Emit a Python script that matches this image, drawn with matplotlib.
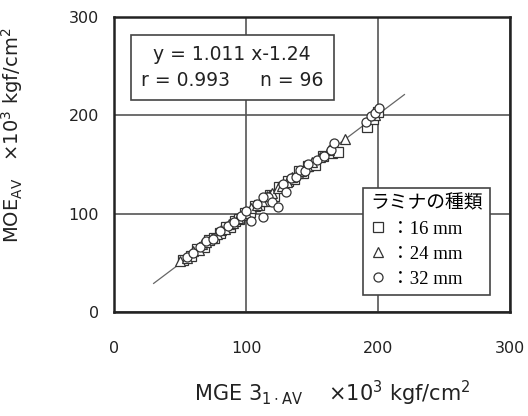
import matplotlib
matplotlib.use("Agg")
import matplotlib.pyplot as plt
import numpy as np

# MGE vs MOE for three lamina thicknesses (x10^3 kgf/cm^2)
sq_x = [52, 58, 63, 68, 72, 76, 80, 85, 88, 92, 95, 99, 103, 107, 110, 114,
        118, 121, 125, 128, 132, 136, 140, 143, 147, 152, 158, 165, 170, 192, 196, 200]
sq_y = [53, 57, 64, 66, 73, 75, 80, 86, 86, 93, 95, 101, 102, 108, 109, 113,
        119, 118, 127, 127, 133, 135, 143, 141, 148, 150, 159, 162, 163, 188, 196, 203]

tri_x = [50, 55, 60, 64, 67, 70, 74, 78, 81, 84, 87, 90, 94, 97, 100, 104,
         108, 112, 116, 120, 124, 127, 131, 135, 139, 142, 146, 150, 156, 163, 175, 198]
tri_y = [52, 55, 62, 63, 69, 71, 75, 79, 83, 84, 90, 91, 96, 99, 101, 106,
         109, 113, 118, 121, 126, 128, 132, 137, 141, 143, 148, 153, 158, 165, 176, 200]

cir_x = [55, 60, 65, 70, 75, 80, 86, 91, 96, 100, 104, 108, 113, 117, 120, 124,
         128, 130, 134, 138, 141, 145, 147, 154, 159, 164, 167, 191, 195, 198, 201, 113]
cir_y = [56, 60, 66, 72, 74, 82, 87, 92, 98, 103, 93, 110, 97, 117, 112, 107,
         130, 122, 136, 137, 144, 143, 151, 155, 159, 165, 172, 193, 199, 202, 207, 117]

labels = ["：16 mm", "：24 mm", "：32 mm"]
slope, intercept = 1.011, -1.24
fit_range = [30, 220]

fig = plt.figure(figsize=(5.28, 4.16), dpi=100)
ax = fig.add_axes([0.216, 0.25, 0.75, 0.709])

xf = np.array(fit_range)
ax.plot(xf, slope * xf + intercept, color="#666666", lw=0.9, zorder=2)

mk = dict(mfc="white", mec="#333333", mew=0.9, ls="none", ms=6.5, zorder=3)
h1, = ax.plot(sq_x, sq_y, marker="s", **mk)
h2, = ax.plot(tri_x, tri_y, marker="^", **mk)
h3, = ax.plot(cir_x, cir_y, marker="o", **mk)

ax.set_xlim(0, 300)
ax.set_ylim(0, 300)
ax.set_xticks([0, 100, 200, 300])
ax.set_yticks([0, 100, 200, 300])
ax.grid(True, color="#555555", lw=1.2)
ax.set_axisbelow(True)
for s in ax.spines.values():
    s.set_linewidth(1.8)
    s.set_color("#222222")
ax.tick_params(length=0, labelsize=11.5, colors="#222222")
ax.tick_params(axis="x", pad=21)
ax.tick_params(axis="y", pad=11)

ax.set_xlabel(r"MGE 3$_{1\cdot\mathrm{AV}}$    $\times$10$^3$ kgf/cm$^2$",
              fontsize=15, color="#222222")
ax.xaxis.set_label_coords(0.55, -0.225)
ax.set_ylabel(r"MOE$_{\mathrm{AV}}$   $\times$10$^3$ kgf/cm$^2$",
              fontsize=14, color="#222222")
ax.yaxis.set_label_coords(-0.225, 0.6)

ax.text(0.298, 0.83, "y = 1.011 x-1.24\nr = 0.993     n = 96",
        transform=ax.transAxes, ha="center", va="center", fontsize=13.5,
        linespacing=1.45, color="#222222",
        bbox=dict(boxstyle="square,pad=0.55", fc="white", ec="#444444", lw=1.2))

serif_jp = dict(family=["Liberation Serif", "Noto Sans CJK JP"], size=13.5)
leg = ax.legend([h1, h2, h3], labels, title="ラミナの種類",
                loc="lower left", bbox_to_anchor=(0.628, 0.057),
                prop=serif_jp, title_fontproperties=serif_jp,
                frameon=True, fancybox=False, framealpha=1,
                edgecolor="#444444", handlelength=0.8, handletextpad=0.3,
                labelspacing=0.42, borderpad=0.4, borderaxespad=0)
leg._legend_box.align = "left"
leg.get_frame().set_linewidth(1.2)
leg.set_zorder(5)

fig.savefig("out.png", dpi=100, facecolor="white")
